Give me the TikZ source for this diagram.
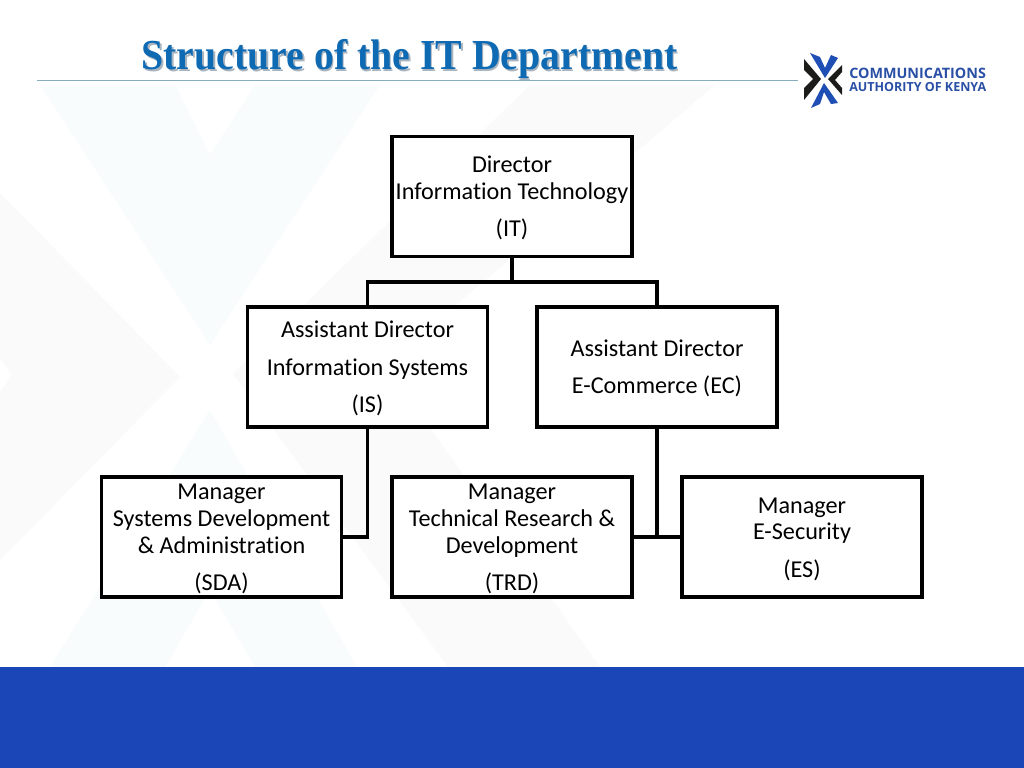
\documentclass[tikz,border=0pt]{standalone}
\usepackage{fontspec}
\usepackage{graphicx}
\usepackage{xcolor}
\usepackage{tikz}
\setmainfont[Ligatures=NoCommon]{Carlito}
\newfontfamily\titlefont{Liberation Serif}
\newfontfamily\logofont{Open Sans}
\usetikzlibrary{positioning}
\definecolor{band}{HTML}{1A46B8}
\definecolor{title}{HTML}{0F6AB4}
\definecolor{titleshade}{HTML}{A9B4BE}
\definecolor{rule}{HTML}{86AEBE}
\definecolor{logoblue}{HTML}{1F4FB5}
\definecolor{logotext}{HTML}{2A50A6}
\definecolor{logoblack}{HTML}{1C1C1A}
\definecolor{markblue}{HTML}{F9FCFD}
\definecolor{markgray}{HTML}{FAFAFA}
\newcommand{\toprow}{\rule{0pt}{14pt}}
\tikzset{
  unit/.style={draw=black, line width=2.2pt, fill=white, minimum width=6cm, minimum height=3cm, inner sep=0pt, align=center, font=\fontsize{17.2}{19}\selectfont},
  link/.style={draw=black, line width=2.2pt, line join=miter},
  headline/.style={anchor=base, font=\titlefont\bfseries\fontsize{30.4}{32}\selectfont},
  logoline/.style={anchor=west, inner sep=0pt, text=logotext, font=\logofont\bfseries\fontsize{8.9}{10}\selectfont},
}

\begin{document}
\begin{tikzpicture}[x=0.025cm,y=-0.025cm]
\useasboundingbox (0,0) rectangle (1024,768);
\fill[white] (0,0) rectangle (1024,768);

% watermark
\fill[markblue] (40,85) -- (175,85) -- (210,155) -- (255,85) -- (380,85) -- (210,345) -- cycle;
\fill[markblue] (210,410) -- (357,667) -- (255,667) -- (210,590) -- (165,667) -- (50,667) -- cycle;
\fill[markgray] (0,193) -- (180,377) -- (0,560) -- (0,392) -- (12,375) -- (0,358) -- cycle;
\fill[markgray] (233,374) -- (530,85) -- (715,85) -- (385,365) -- (600,667) -- (448,667) -- cycle;

\fill[band] (0,667) rectangle (1024,768);

% heading
\node[headline, text=titleshade] (headshade) at (411,71.5) {\scalebox{0.93}[1]{Structure of the IT Department}};
\node[headline, text=title] (head) at (409.5,70) {\scalebox{0.93}[1]{Structure of the IT Department}};
\coordinate (ruleleft) at (37,80);
\coordinate (ruleright) at (798,80);
\draw[rule, line width=0.7pt] (ruleleft) -- (ruleright);

% logo
\fill[logoblue] (810,53) -- (820,57) -- (825,68) -- (831,55) -- (838,58) -- (825,78) -- cycle;
\fill[logoblue] (824,83) -- (838,103) -- (831,104) -- (824,92) -- (820,104) -- (811,108) -- cycle;
\fill[logoblack] (804,59) -- (821,79) -- (804,100) -- (804,88) -- (813,79) -- (804,70) -- cycle;
\fill[logoblack] (842,65) -- (828,79) -- (842,95) -- (842,88) -- (835,80) -- (842,72) -- cycle;
\node[logoline, font=\logofont\bfseries\fontsize{10.2}{10}\selectfont] (logoa) at (849,73) {COMMUNICATIONS};
\node[logoline] (logob) at (849,87) {AUTHORITY OF KENYA};

% boxes
\node[unit] (it) at (512,196.5) {\toprow Director\\Information Technology\\[7.5pt](IT)};
\node[unit] (is) at (367.5,367) {\toprow Assistant Director\\[7.5pt]Information Systems\\[7.5pt](IS)};
\node[unit] (ec) at (657,367) {\toprow Assistant Director\\[7.5pt]E-Commerce (EC)};
\node[unit] (sda) at (221.5,537) {\toprow Manager\\Systems Development\\\& Administration\\[7.5pt](SDA)};
\node[unit] (trd) at (512,537) {\toprow Manager\\Technical Research \&\\Development\\[7.5pt](TRD)};
\node[unit] (es) at (802,537) {\toprow Manager\\E-Security\\[7.5pt](ES)};

% connectors
\coordinate (itjoin) at (512,282);
\draw[link] (it) -- (itjoin);
\draw[link] (is) |- (itjoin) -| (ec);
\draw[link] (is) |- (sda);
\draw[link] (ec) |- (trd);
\draw[link] (ec) |- (es);
\end{tikzpicture}
\end{document}
